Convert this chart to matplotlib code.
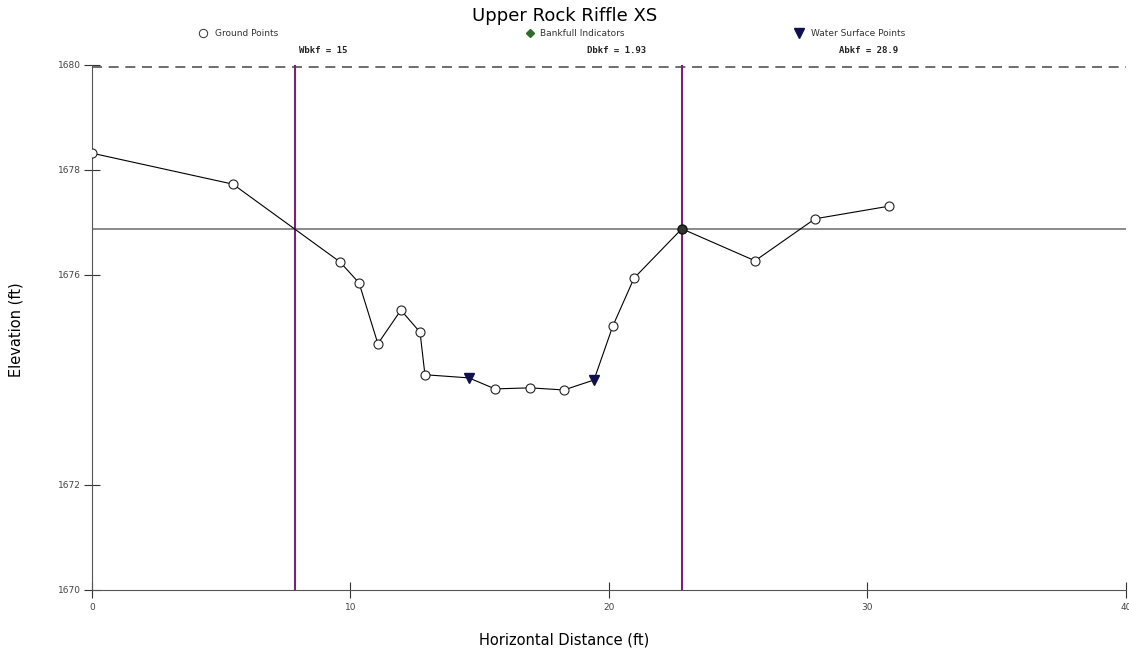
import matplotlib.pyplot as plt
import numpy as np

# cross-section survey (ft)
station = [0.0, 5.45, 9.59, 10.33, 11.06, 11.95, 12.69, 12.88, 14.58, 15.59,
           16.94, 18.26, 19.42, 20.15, 20.97, 22.82, 25.65, 27.97, 30.83]
elev = [1678.32, 1677.73, 1676.25, 1675.85, 1674.69, 1675.33, 1674.91, 1674.10,
        1674.04, 1673.83, 1673.85, 1673.81, 1674.00, 1675.03, 1675.94, 1676.88,
        1676.27, 1677.07, 1677.31]
ws_station = [14.58, 19.42]
ws_elev = [1674.04, 1674.00]
bkf_station = [22.82]
bkf_elev = [1676.88]
bkf_left, bkf_right = 7.85, 22.82
bkf_elev_line = 1676.88
flood_elev = 1679.96
stats = ['Wbkf = 15', 'Dbkf = 1.93', 'Abkf = 28.9']

fig = plt.figure(figsize=(11.29, 6.53), dpi=100)
ax = fig.add_axes([0.0815, 0.0965, 0.9158, 0.804])

ax.axhline(bkf_elev_line, color='#777777', lw=1.2, zorder=1)
ax.axhline(flood_elev, color='#555555', lw=1.2, ls=(0, (6, 4)), zorder=1)
ax.axvline(bkf_left, color='#7b1f7b', lw=1.5, zorder=1)
ax.axvline(bkf_right, color='#7b1f7b', lw=1.5, zorder=1)

ground = [(s, e) for s, e in zip(station, elev) if s not in ws_station and s not in bkf_station]
ax.plot(station, elev, color='black', lw=0.8, zorder=2)
ax.plot([g[0] for g in ground], [g[1] for g in ground], 'o', mfc='white', mec='#222222',
        ms=6.5, mew=0.8, zorder=3)
ax.plot(ws_station, ws_elev, 'v', color='#101050', ms=6.5, zorder=3)
ax.plot(bkf_station, bkf_elev, 'o', mfc='#333333', mec='#111111', ms=6.5, zorder=3)

ax.set_xlim(0, 40)
ax.set_ylim(1670, 1680)
ax.set_xticks([0, 10, 20, 30, 40])
ax.set_yticks([1670, 1672, 1676, 1678, 1680])
ax.spines['top'].set_visible(False)
ax.spines['right'].set_visible(False)
for sp in ['left', 'bottom']:
    ax.spines[sp].set_color('#555555')
ax.tick_params(direction='inout', length=12, width=0.8, labelsize=6.5,
               labelcolor='#444444', color='#333333')
ax.tick_params(axis='y', pad=2)

fig.text(0.5, 0.020, 'Horizontal Distance (ft)', ha='center', va='center', fontsize=10.5)
fig.text(0.014, 0.495, 'Elevation (ft)', ha='center', va='center', fontsize=10.5,
         rotation=90)

fig.text(0.5, 0.975, 'Upper Rock Riffle XS', ha='center', va='center', fontsize=13)

# legend row
fig.lines.append(plt.Line2D([0.180], [0.949], marker='o', mfc='white', mec='#333333',
                            ms=6, mew=0.7, transform=fig.transFigure))
fig.text(0.190, 0.949, 'Ground Points', va='center', fontsize=6.5, color='#333333')
fig.lines.append(plt.Line2D([0.469], [0.949], marker='D', color='#2e6b2e',
                            ms=4.5, transform=fig.transFigure))
fig.text(0.478, 0.949, 'Bankfull Indicators', va='center', fontsize=6.5, color='#333333')
fig.lines.append(plt.Line2D([0.708], [0.949], marker='v', color='#101050',
                            ms=6.5, transform=fig.transFigure))
fig.text(0.718, 0.949, 'Water Surface Points', va='center', fontsize=6.5, color='#333333')

for xpos, s in zip([0.286, 0.546, 0.769], stats):
    fig.text(xpos, 0.923, s, ha='center', va='center', fontsize=6.5,
             family='DejaVu Sans Mono', weight='bold', color='#222222')

fig.savefig('out.png', dpi=100)
